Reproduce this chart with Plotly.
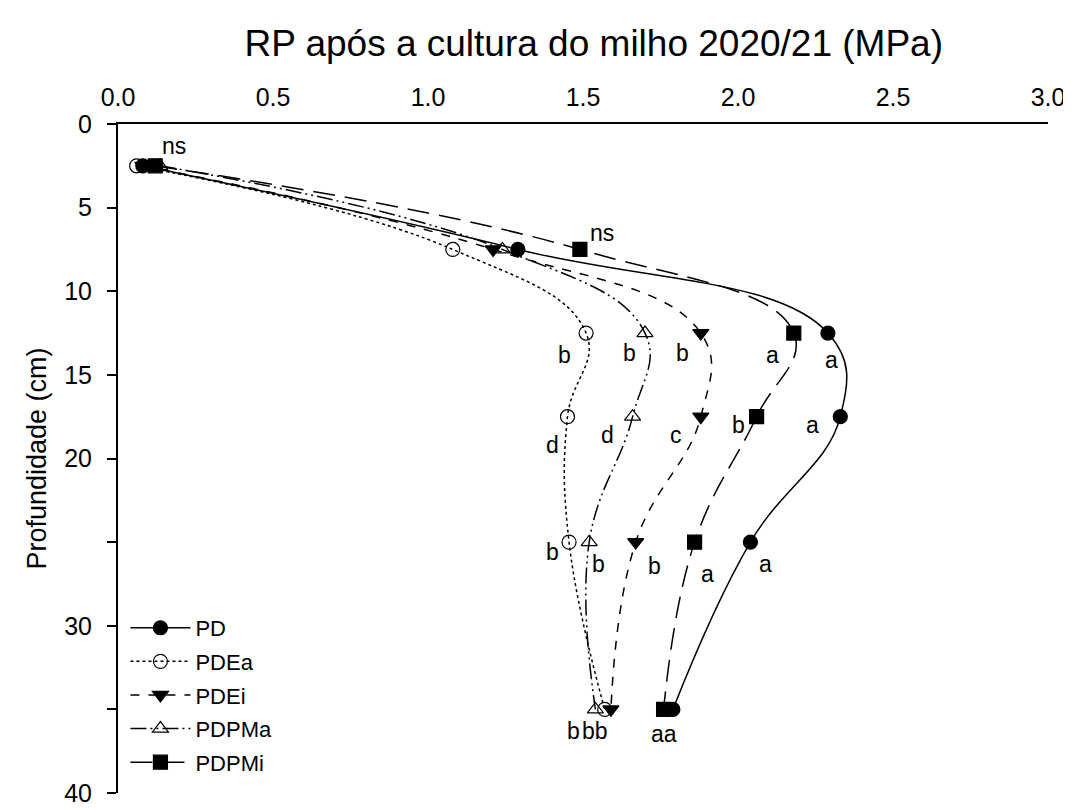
import plotly.graph_objects as go

depth = [2.5, 7.5, 12.5, 17.5, 25, 35]
pd_vals = [0.08, 1.29, 2.29, 2.33, 2.04, 1.79]
pdea_vals = [0.06, 1.08, 1.51, 1.45, 1.455, 1.57]
pdei_vals = [0.08, 1.21, 1.88, 1.88, 1.67, 1.59]
pdpma_vals = [0.135, 1.24, 1.70, 1.66, 1.52, 1.54]
pdpmi_vals = [0.12, 1.49, 2.18, 2.06, 1.86, 1.76]

series_names = ["PD", "PDEa", "PDEi", "PDPMa", "PDPMi"]

letters_text = ["ns", "ns",
                "b", "b", "b", "a", "a",
                "d", "d", "c", "b", "a",
                "b", "b", "b", "a", "a",
                "b", "bb", "aa"]
letters_x = [0.18, 1.56,
             1.44, 1.65, 1.82, 2.11, 2.30,
             1.40, 1.58, 1.80, 2.00, 2.24,
             1.40, 1.55, 1.73, 1.90, 2.09,
             1.47, 1.54, 1.76]
letters_y = [1.3, 6.5,
             13.8, 13.7, 13.7, 13.8, 14.1,
             19.2, 18.6, 18.6, 18.0, 18.0,
             25.6, 26.3, 26.4, 26.9, 26.3,
             36.3, 36.3, 36.5]

FONT = "Liberation Sans, Arial, sans-serif"

styles = [
    dict(dash="solid", symbol="circle"),
    dict(dash="dot", symbol="circle-open"),
    dict(dash="dash", symbol="triangle-down"),
    dict(dash="16px,4px,2px,4px,2px,4px", symbol="triangle-up-open"),
    dict(dash="22px,10px", symbol="square"),
]
values = [pd_vals, pdea_vals, pdei_vals, pdpma_vals, pdpmi_vals]

fig = go.Figure()
for name, vals, st in zip(series_names, values, styles):
    fig.add_trace(go.Scatter(
        x=vals, y=depth, name=name, mode="lines+markers", legendgroup=name,
        line=dict(color="black", width=1.5, dash=st["dash"], shape="spline", smoothing=1.2),
        marker=dict(symbol=st["symbol"], size=14, color="black",
                    line=dict(color="black", width=1.2)),
    ))

for t, x, y in zip(letters_text, letters_x, letters_y):
    fig.add_annotation(x=x, y=y, text=t, showarrow=False,
                       font=dict(family=FONT, size=23, color="black"),
                       xanchor="center", yanchor="middle")

fig.update_layout(
    width=1063, height=800,
    margin=dict(l=110, r=23, t=116, b=15),
    paper_bgcolor="white", plot_bgcolor="white",
    font=dict(family=FONT, color="black", size=22),
    title=dict(text="RP após a cultura do milho 2020/21 (MPa)",
               x=0.551, xanchor="center", y=0.956, yanchor="middle",
               font=dict(family=FONT, size=37, color="black")),
    showlegend=True,
    legend=dict(x=0.008, y=0.015, xanchor="left", yanchor="bottom",
                bgcolor="rgba(0,0,0,0)", font=dict(family=FONT, size=22),
                itemwidth=60, tracegroupgap=2),
    xaxis=dict(side="top", range=[0, 3.0], tickvals=[0, 0.5, 1.0, 1.5, 2.0, 2.5, 3.0],
               ticktext=["0.0", "0.5", "1.0", "1.5", "2.0", "2.5", "3.0"],
               showgrid=False, zeroline=False, showline=True, linecolor="black", linewidth=2,
               ticks="", ticklabelstandoff=6, automargin=False, ticklabeloverflow="allow",
               tickfont=dict(family=FONT, size=25)),
    yaxis=dict(range=[40, 0], tickvals=[0, 5, 10, 15, 20, 25, 30, 35, 40],
               ticktext=["0", "5", "10", "15", "20", "", "30", "", "40"],
               showgrid=False, zeroline=False, showline=True, linecolor="black", linewidth=2,
               ticks="outside", ticklen=9, tickwidth=1.5, tickcolor="black",
               ticklabelstandoff=10, automargin=False, ticklabeloverflow="allow",
               tickfont=dict(family=FONT, size=25),
               title=dict(text="Profundidade (cm)", font=dict(family=FONT, size=27), standoff=10)),
)

fig.write_html("out.html")
